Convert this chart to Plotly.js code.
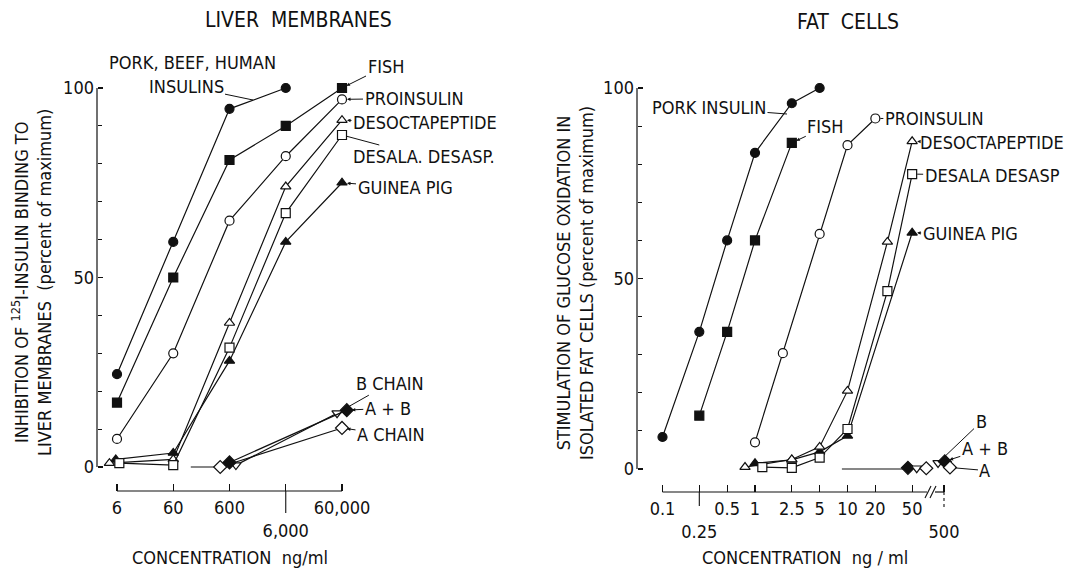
<!DOCTYPE html>
<html><head><meta charset="utf-8">
<script src="https://cdn.plot.ly/plotly-3.0.1.min.js"></script>
<style>html,body{margin:0;padding:0;background:#fff}</style>
</head><body><div id="chart" style="width:1078px;height:571px"></div>
<script>
// ---------- DATA: LIVER MEMBRANES (left) ----------
const porkLX = [6, 60, 600, 6000];
const porkLY = [24.5, 59.4, 94.5, 100];
const fishLX = [6, 60, 600, 6000, 60000];
const fishLY = [17, 50, 81, 90, 100];
const proLX = [6, 60, 600, 6000, 60000];
const proLY = [7.4, 30, 65, 82, 97];
const desoctaLX = [4.4, 60, 600, 6000, 60000];
const desoctaLY = [1, 2, 38, 74, 91.5];
const desalaLX = [6.6, 60, 600, 6000, 60000];
const desalaLY = [1, 0.5, 31.5, 67, 87.6];
const guineaLX = [5.7, 60, 600, 6000, 60000];
const guineaLY = [2, 3.7, 28, 59.4, 75];
const bChainLX = [780, 49000];
const bChainLY = [0.5, 14.2];
const abLX = [600, 73000];
const abLY = [1.2, 15];
const aChainLX = [410, 60000];
const aChainLY = [0, 10.3];
const baseLX = [123, 410];
const baseLY = [0, 0];
const xTickL = [6, 60, 600, 6000, 60000];
const xTickLText = ['6', '60', '600', '<br>6,000', '60,000'];

// ---------- DATA: FAT CELLS (right) ----------
const porkRX = [0.1, 0.25, 0.5, 1, 2.5, 5];
const porkRY = [8.4, 36, 60, 83, 96, 100];
const fishRX = [0.25, 0.5, 1, 2.5];
const fishRY = [14, 36, 60, 85.6];
const proRX = [1, 2, 5, 10, 20];
const proRY = [7, 30.4, 61.7, 85, 92];
const desoctaRX = [0.78, 2.5, 5, 10, 27, 50];
const desoctaRY = [0.5, 2.5, 5.8, 20.5, 59.6, 86];
const desalaRX = [1.2, 2.5, 5, 10, 27, 50];
const desalaRY = [0.5, 0.3, 3, 10.5, 46.7, 77.4];
const guineaRX = [1, 2.5, 5, 10, 50];
const guineaRY = [1.5, 2.4, 4.5, 8.7, 62];
const baseRX = [8.7, 45];
const baseRY = [0, 0];
const abRX = [45], abRY = [0.3];
const bRX = [56], bRY = [0.2];
const aRX = [71], aRY = [0.2];
const bR2X = [431], bR2Y = [1.6];
const abR2X = [510], abR2Y = [2];
const aR2X = [580], aR2Y = [0.4];
const xTickR = [0.1, 0.25, 0.5, 1, 2.5, 5, 10, 20, 50];
const xTickRText = ['0.1', '<br>0.25', '0.5', '1', '2.5', '5', '10', '20', '50'];
const xTickR3 = [500];
const xTickR3Text = ['<br>500'];
const yTicks = [0, 50, 100];
const yTickText = ['0', '50', '100'];
const yMinorStep = 10;

// ---------- helpers ----------
const W = 1078, H = 571;
const px = x => x / W, py = y => 1 - y / H;
const FONT = "'Liberation Sans Narrow', 'DejaVu Sans Condensed', 'Liberation Sans', sans-serif";
const INK = '#111';

function tr(x, y, xa, ya, symbol, filled, mode) {
  return {
    x: x, y: y, xaxis: xa, yaxis: ya, type: 'scatter', mode: mode || 'lines+markers',
    cliponaxis: false, hoverinfo: 'skip',
    line: {color: INK, width: 1.2},
    marker: {symbol: symbol, size: symbol === 'diamond' ? 10 : 9,
      color: filled ? INK : '#fff', line: {color: INK, width: 1.2}}
  };
}

const traces = [
  {x: baseLX, y: baseLY, xaxis: 'x', yaxis: 'y', mode: 'lines', line: {color: INK, width: 1.2}, hoverinfo: 'skip'},
  tr(porkLX, porkLY, 'x', 'y', 'circle', true),
  tr(fishLX, fishLY, 'x', 'y', 'square', true),
  tr(proLX, proLY, 'x', 'y', 'circle', false),
  tr(guineaLX, guineaLY, 'x', 'y', 'triangle-up', true),
  tr(desoctaLX, desoctaLY, 'x', 'y', 'triangle-up', false),
  tr(desalaLX, desalaLY, 'x', 'y', 'square', false),
  tr(aChainLX, aChainLY, 'x', 'y', 'diamond', false),
  tr(bChainLX, bChainLY, 'x', 'y', 'triangle-down', false),
  tr(abLX, abLY, 'x', 'y', 'diamond', true),

  {x: baseRX, y: baseRY, xaxis: 'x2', yaxis: 'y2', mode: 'lines', line: {color: INK, width: 1.2}, hoverinfo: 'skip'},
  tr(porkRX, porkRY, 'x2', 'y2', 'circle', true),
  tr(fishRX, fishRY, 'x2', 'y2', 'square', true),
  tr(proRX, proRY, 'x2', 'y2', 'circle', false),
  tr(guineaRX, guineaRY, 'x2', 'y2', 'triangle-up', true),
  tr(desoctaRX, desoctaRY, 'x2', 'y2', 'triangle-up', false),
  tr(desalaRX, desalaRY, 'x2', 'y2', 'square', false),
  tr(abRX, abRY, 'x2', 'y2', 'diamond', true, 'markers'),
  tr(bRX, bRY, 'x2', 'y2', 'triangle-down', false, 'markers'),
  tr(aRX, aRY, 'x2', 'y2', 'diamond', false, 'markers'),
  tr(bR2X, bR2Y, 'x3', 'y2', 'triangle-down', false, 'markers'),
  tr(abR2X, abR2Y, 'x3', 'y2', 'diamond', true, 'markers'),
  tr(aR2X, aR2Y, 'x3', 'y2', 'diamond', false, 'markers')
];

// axis geometry (pixels)
const L = {yAxisX: 97, xAxisY: 491, x0px: 97, x1px: 375, decade: 56.25, refV: 6, refPx: 117, y0px: 467, y100px: 88};
const R = {yAxisX: 637, xAxisY: 492, x0px: 637, x1px: 932, decade: 92.5, refV: 1, refPx: 755, y0px: 469, y100px: 88,
           x3a: 932, x3b: 960, refV3: 500, refPx3: 944};
function logRange(x0, x1, refV, refPx, dec) {
  return [Math.log10(refV) + (x0 - refPx) / dec, Math.log10(refV) + (x1 - refPx) / dec];
}
function yDomain(y0, y100, pad) {
  const s = (y0 - y100) / 100;
  return [py(y0 + pad * s), py(y100 - pad * s)];
}
const PAD = 1.5;
const tickFont = {family: FONT, size: 18, color: INK};

function xAx(domA, domB, range, pos, vals, text) {
  return {type: 'log', domain: [px(domA), px(domB)], range: range, anchor: 'free', position: pos,
    showline: false, showgrid: false, zeroline: false, ticks: 'inside', ticklen: 7, tickwidth: 1.1, tickcolor: INK,
    tickmode: 'array', tickvals: vals, ticktext: text, tickfont: tickFont, tickangle: 0, ticklabelstandoff: 4};
}
function yAx(dom, xpos) {
  return {domain: dom, range: [-PAD, 100 + PAD], anchor: 'free', position: px(xpos),
    showline: false, showgrid: false, zeroline: false, ticks: 'inside', ticklen: 5, tickwidth: 1.1, tickcolor: INK,
    tickmode: 'array', tickvals: yTicks, ticktext: yTickText, tickfont: tickFont, ticklabelstandoff: 3,
    minor: {tick0: 0, dtick: yMinorStep, ticks: 'inside', ticklen: 4, tickwidth: 1, tickcolor: INK, showgrid: false}};
}

const xRangeL = logRange(L.x0px, L.x1px, L.refV, L.refPx, L.decade);
const xRangeR = logRange(R.x0px, R.x1px, R.refV, R.refPx, R.decade);
const xRangeR3 = logRange(R.x3a, R.x3b, R.refV3, R.refPx3, R.decade);

// convert a value on an axis to paper x
function toPaper(v, domA, domB, range) {
  return px(domA) + (Math.log10(v) - range[0]) / (range[1] - range[0]) * (px(domB) - px(domA));
}

const lineStyle = {color: INK, width: 1.2};
const shapes = [
  {type: 'line', xref: 'paper', yref: 'y', x0: px(L.yAxisX), x1: px(L.yAxisX), y0: yTicks[0], y1: yTicks[yTicks.length - 1], line: lineStyle},
  {type: 'line', xref: 'paper', yref: 'paper', x0: toPaper(xTickL[0], L.x0px, L.x1px, xRangeL), x1: toPaper(xTickL[xTickL.length - 1], L.x0px, L.x1px, xRangeL), y0: py(L.xAxisY), y1: py(L.xAxisY), line: lineStyle},
  {type: 'line', xref: 'paper', yref: 'paper', x0: toPaper(xTickL[3], L.x0px, L.x1px, xRangeL), x1: toPaper(xTickL[3], L.x0px, L.x1px, xRangeL), y0: py(L.xAxisY), y1: py(L.xAxisY + 22), line: {color: INK, width: 1.1}},
  {type: 'line', xref: 'paper', yref: 'y2', x0: px(R.yAxisX), x1: px(R.yAxisX), y0: yTicks[0], y1: yTicks[yTicks.length - 1], line: lineStyle},
  {type: 'line', xref: 'paper', yref: 'paper', x0: toPaper(xTickR[0], R.x0px, R.x1px, xRangeR), x1: px(927), y0: py(R.xAxisY), y1: py(R.xAxisY), line: lineStyle},
  {type: 'line', xref: 'paper', yref: 'paper', x0: px(935), x1: toPaper(xTickR3[0], R.x3a, R.x3b, xRangeR3), y0: py(R.xAxisY), y1: py(R.xAxisY), line: lineStyle},
  {type: 'line', xref: 'paper', yref: 'paper', x0: px(925), x1: px(931), y0: py(R.xAxisY + 6), y1: py(R.xAxisY - 6), line: {color: INK, width: 1.1}},
  {type: 'line', xref: 'paper', yref: 'paper', x0: px(930), x1: px(936), y0: py(R.xAxisY + 6), y1: py(R.xAxisY - 6), line: {color: INK, width: 1.1}},
  {type: 'line', xref: 'paper', yref: 'paper', x0: toPaper(xTickR[1], R.x0px, R.x1px, xRangeR), x1: toPaper(xTickR[1], R.x0px, R.x1px, xRangeR), y0: py(R.xAxisY), y1: py(R.xAxisY + 14), line: {color: INK, width: 1.1}},
  {type: 'line', xref: 'paper', yref: 'paper', x0: toPaper(xTickR3[0], R.x3a, R.x3b, xRangeR3), x1: toPaper(xTickR3[0], R.x3a, R.x3b, xRangeR3), y0: py(R.xAxisY), y1: py(R.xAxisY + 16), line: {color: INK, width: 1.1, dash: 'dot'}}
];

const aFont = {family: FONT, size: 18, color: INK};
function lab(xs, ys, i, xr, yr, text, ax, ay, head) {
  return {x: Math.log10(xs[i]), y: ys[i], xref: xr, yref: yr, text: text, ax: ax, ay: ay,
    showarrow: true, arrowhead: head ? 2 : 0, arrowsize: 0.7, arrowwidth: 1, arrowcolor: INK,
    standoff: 5, font: aFont};
}
function txt(x, y, text, size, angle) {
  return {x: px(x), y: py(y), xref: 'paper', yref: 'paper', text: text, showarrow: false,
    font: {family: FONT, size: size || 18, color: INK}, textangle: angle || 0, xanchor: 'center', yanchor: 'middle'};
}

const annotations = [
  txt(298, 20, 'LIVER  MEMBRANES', 21),
  txt(848, 22, 'FAT  CELLS', 21),
  txt(31, 283, 'INHIBITION OF <sup>125</sup>I-INSULIN BINDING TO<br>LIVER MEMBRANES  (percent of maximum)', 18, -90),
  txt(575, 283, 'STIMULATION OF GLUCOSE OXIDATION IN<br>ISOLATED FAT CELLS (percent of maximum)', 18, -90),
  txt(230, 557, 'CONCENTRATION  ng/ml', 18),
  txt(805, 557, 'CONCENTRATION  ng / ml', 18),
  txt(192, 62, 'PORK, BEEF, HUMAN', 18),
  {x: px(253), y: py(100), xref: 'paper', yref: 'paper', text: 'INSULINS', ax: -67, ay: -14, showarrow: true,
   arrowhead: 0, arrowwidth: 1, arrowcolor: INK, standoff: 0, font: aFont},
  lab(fishLX, fishLY, 4, 'x', 'y', 'FISH', 44, -22, true),
  lab(proLX, proLY, 4, 'x', 'y', 'PROINSULIN', 72, -1, true),
  lab(desoctaLX, desoctaLY, 4, 'x', 'y', 'DESOCTAPEPTIDE', 83, 2, true),
  lab(desalaLX, desalaLY, 4, 'x', 'y', 'DESALA. DESASP.', 82, 22, false),
  lab(guineaLX, guineaLY, 4, 'x', 'y', 'GUINEA PIG', 63, 5, true),
  lab(bChainLX, bChainLY, 1, 'x', 'y', 'B CHAIN', 53, -30, true),
  lab(abLX, abLY, 1, 'x', 'y', 'A + B', 41, -2, true),
  lab(aChainLX, aChainLY, 1, 'x', 'y', 'A CHAIN', 49, 7, true),
  {x: px(787), y: py(114), xref: 'paper', yref: 'paper', text: 'PORK INSULIN', ax: -78, ay: -6, showarrow: true,
   arrowhead: 0, arrowwidth: 1, arrowcolor: INK, standoff: 0, font: aFont},
  lab(fishRX, fishRY, 3, 'x2', 'y2', 'FISH', 34, -16, true),
  lab(proRX, proRY, 4, 'x2', 'y2', 'PROINSULIN', 59, 0, false),
  lab(desoctaRX, desoctaRY, 5, 'x2', 'y2', 'DESOCTAPEPTIDE', 80, 1, true),
  lab(desalaRX, desalaRY, 5, 'x2', 'y2', 'DESALA DESASP', 80, 1, false),
  lab(guineaRX, guineaRY, 4, 'x2', 'y2', 'GUINEA PIG', 58, 1, true),
  lab(bR2X, bR2Y, 0, 'x3', 'y2', 'B', 43, -41, false),
  lab(abR2X, abR2Y, 0, 'x3', 'y2', 'A + B', 40, -13, true),
  lab(aR2X, aR2Y, 0, 'x3', 'y2', 'A', 35, 3, false)
];

const layout = {
  width: W, height: H, margin: {l: 0, r: 0, t: 0, b: 0, pad: 0},
  paper_bgcolor: '#fff', plot_bgcolor: 'rgba(0,0,0,0)', showlegend: false,
  font: {family: FONT, size: 18, color: INK},
  xaxis: xAx(L.x0px, L.x1px, xRangeL, py(L.xAxisY), xTickL, xTickLText),
  yaxis: yAx(yDomain(L.y0px, L.y100px, PAD), L.yAxisX),
  xaxis2: xAx(R.x0px, R.x1px, xRangeR, py(R.xAxisY), xTickR, xTickRText),
  xaxis3: xAx(R.x3a, R.x3b, xRangeR3, py(R.xAxisY), xTickR3, xTickR3Text),
  yaxis2: yAx(yDomain(R.y0px, R.y100px, PAD), R.yAxisX),
  shapes: shapes,
  annotations: annotations
};

Plotly.newPlot('chart', traces, layout, {staticPlot: true, displayModeBar: false});
</script>
</body></html>
